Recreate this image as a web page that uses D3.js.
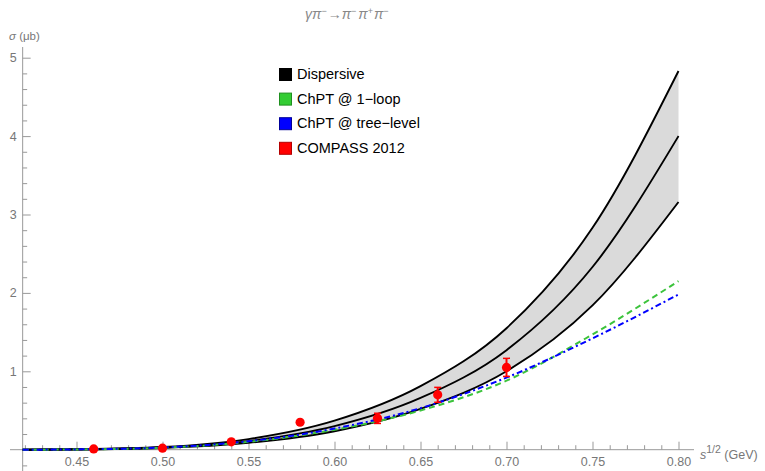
<!DOCTYPE html>
<html>
<head>
<meta charset="utf-8">
<script src="https://cdn.jsdelivr.net/npm/d3@7"></script>
<style>
  body { margin: 0; background: #fff; }
  svg { font-family: "Liberation Sans", Arial, sans-serif; }
</style>
</head>
<body>
<div id="chart"></div>
<script>
// sqrt(s) grid for the curves (GeV), starting at the 3 pion threshold
let curveX = [0.4187, 0.45, 0.50, 0.55, 0.60, 0.65, 0.70, 0.75, 0.80];

// dispersive result: central value and band edges (microbarn)
let dispCentral = [0, 0.004, 0.028, 0.110, 0.300, 0.66, 1.27, 2.33, 4.00];
let dispUpper   = [0, 0.005, 0.034, 0.135, 0.370, 0.81, 1.55, 2.83, 4.83];
let dispLower   = [0, 0.003, 0.022, 0.087, 0.235, 0.52, 1.00, 1.84, 3.16];

// ChPT curves
let chptLoop = [0, 0.003, 0.025, 0.100, 0.255, 0.50, 0.88, 1.47, 2.15];
let chptTree = [0, 0.004, 0.028, 0.108, 0.270, 0.53, 0.92, 1.42, 1.98];

// COMPASS 2012 data
let dataX   = [0.46, 0.50, 0.54, 0.58, 0.625, 0.66, 0.70];
let dataY   = [0.01, 0.02, 0.10, 0.35, 0.40, 0.70, 1.05];
let dataErr = [0.005, 0.008, 0.015, 0.02, 0.065, 0.095, 0.115];

let xMajor = [0.45, 0.50, 0.55, 0.60, 0.65, 0.70, 0.75, 0.80];
let yMajor = [1, 2, 3, 4, 5];

let legendLabels = ["Dispersive", "ChPT @ 1\u2212loop", "ChPT @ tree\u2212level", "COMPASS 2012"];
let legendColors = ["#000000", "#33cc33", "#0000ff", "#ff0000"];
let legendStroke = ["#000000", "#1f8f1f", "#000099", "#b30000"];

let chartWidth = 765;
let chartHeight = 471;
let axisColor = "#999999";
let labelColor = "#777777";

let x = d3.scaleLinear().domain([0.45, 0.80]).range([76.5, 678.5]);
let y = d3.scaleLinear().domain([0, 5]).range([449.7, 57.7]);

let svg = d3.select("#chart").append("svg")
    .attr("width", chartWidth)
    .attr("height", chartHeight);

let originX = x(0.4187);

// band
let band = d3.area()
    .x(function (d, i) { return x(curveX[i]); })
    .y0(function (d, i) { return y(dispLower[i]); })
    .y1(function (d, i) { return y(dispUpper[i]); })
    .curve(d3.curveMonotoneX);

svg.append("path")
    .datum(curveX)
    .attr("fill", "#dadada")
    .attr("d", band);

function line(values) {
    return d3.line()
        .x(function (d, i) { return x(curveX[i]); })
        .y(function (d) { return y(d); })
        .curve(d3.curveMonotoneX)(values);
}

// axes (drawn under curves)
let xAxisY = y(0);

svg.append("line")
    .attr("x1", 10).attr("x2", 694)
    .attr("y1", xAxisY).attr("y2", xAxisY)
    .attr("stroke", axisColor);

svg.append("line")
    .attr("x1", originX).attr("x2", originX)
    .attr("y1", 47).attr("y2", chartHeight)
    .attr("stroke", axisColor);

let xMinor = d3.range(42, 81).map(function (d) { return d / 100; })
    .filter(function (d) { return Math.round(d * 100) % 5 !== 0; });

let xAxisMinor = d3.axisBottom(x).tickValues(xMinor).tickSize(-4.5).tickFormat("");
let xAxisMajor = d3.axisBottom(x).tickValues(xMajor).tickSize(-8).tickPadding(7)
    .tickFormat(d3.format(".2f"));

svg.append("g").attr("transform", "translate(0," + xAxisY + ")").call(xAxisMinor);
svg.append("g").attr("transform", "translate(0," + xAxisY + ")").call(xAxisMajor);

let yMinor = d3.range(-1, 26).map(function (d) { return d / 5; })
    .filter(function (d) { return d !== 0 && Math.round(d * 5) % 5 !== 0; });

let yAxisMinor = d3.axisLeft(y).tickValues(yMinor).tickSize(-4.5).tickFormat("");
let yAxisMajor = d3.axisLeft(y).tickValues(yMajor).tickSize(-8).tickPadding(6)
    .tickFormat(d3.format("d"));

svg.append("g").attr("transform", "translate(" + originX + ",0)").call(yAxisMinor);
svg.append("g").attr("transform", "translate(" + originX + ",0)").call(yAxisMajor);

svg.selectAll(".domain").remove();
svg.selectAll(".tick line").attr("stroke", axisColor);
svg.selectAll(".tick text")
    .attr("fill", labelColor)
    .style("font-size", "12.5px")
    .style("font-family", "Liberation Sans, Arial, sans-serif");

// dispersive lines
[dispUpper, dispCentral, dispLower].forEach(function (v) {
    svg.append("path")
        .attr("d", line(v))
        .attr("fill", "none")
        .attr("stroke", "#000")
        .attr("stroke-width", 1.9);
});

// ChPT lines
svg.append("path")
    .attr("d", line(chptLoop))
    .attr("fill", "none")
    .attr("stroke", "#3cc33c")
    .attr("stroke-width", 2)
    .attr("stroke-dasharray", "6,4");

svg.append("path")
    .attr("d", line(chptTree))
    .attr("fill", "none")
    .attr("stroke", "#0000ff")
    .attr("stroke-width", 2)
    .attr("stroke-dasharray", "6,3,2,3");

// data points
let pts = svg.append("g").selectAll("g")
    .data(dataX)
    .enter().append("g");

pts.append("line")
    .attr("x1", function (d) { return x(d); })
    .attr("x2", function (d) { return x(d); })
    .attr("y1", function (d, i) { return y(dataY[i] + dataErr[i]); })
    .attr("y2", function (d, i) { return y(dataY[i] - dataErr[i]); })
    .attr("stroke", "#ff0000")
    .attr("stroke-width", 2);

[1, -1].forEach(function (sgn) {
    pts.append("line")
        .attr("x1", function (d) { return x(d) - 3.5; })
        .attr("x2", function (d) { return x(d) + 3.5; })
        .attr("y1", function (d, i) { return y(dataY[i] + sgn * dataErr[i]); })
        .attr("y2", function (d, i) { return y(dataY[i] + sgn * dataErr[i]); })
        .attr("stroke", "#ff0000")
        .attr("stroke-width", 1.5);
});

pts.append("circle")
    .attr("cx", function (d) { return x(d); })
    .attr("cy", function (d, i) { return y(dataY[i]); })
    .attr("r", 4.6)
    .attr("fill", "#ff0000");

// legend
let legend = svg.append("g").attr("transform", "translate(279,68)");

let rows = legend.selectAll("g")
    .data(legendLabels)
    .enter().append("g")
    .attr("transform", function (d, i) { return "translate(0," + (i * 24.6) + ")"; });

rows.append("rect")
    .attr("x", 0.5).attr("y", 0.5)
    .attr("width", 12).attr("height", 12)
    .attr("fill", function (d, i) { return legendColors[i]; })
    .attr("stroke", function (d, i) { return legendStroke[i]; });

rows.append("text")
    .attr("x", 18)
    .attr("y", 11)
    .style("font-size", "14.5px")
    .attr("fill", "#000")
    .text(function (d) { return d; });

// title
let title = svg.append("text")
    .attr("x", 305)
    .attr("y", 19)
    .attr("fill", "#888")
    .style("font-size", "14px")
    .style("font-style", "italic");

title.append("tspan").text("\u03b3\u03c0");
title.append("tspan").attr("dy", -5).style("font-size", "9px").style("font-style", "normal").text("\u2212");
title.append("tspan").attr("dy", 5).attr("dx", 1).style("font-style", "normal").text("\u2192");
title.append("tspan").text("\u03c0");
title.append("tspan").attr("dy", -5).style("font-size", "9px").style("font-style", "normal").text("\u2212");
title.append("tspan").attr("dy", 5).attr("dx", 2).text("\u03c0");
title.append("tspan").attr("dy", -5).style("font-size", "9px").style("font-style", "normal").text("+");
title.append("tspan").attr("dy", 5).attr("dx", 1).text("\u03c0");
title.append("tspan").attr("dy", -5).style("font-size", "9px").style("font-style", "normal").text("\u2212");

// axis labels
let yLabel = svg.append("text")
    .attr("x", 9)
    .attr("y", 40)
    .attr("fill", labelColor)
    .style("font-size", "11.5px");
yLabel.append("tspan").style("font-style", "italic").text("\u03c3");
yLabel.append("tspan").text(" (\u03bcb)");

let xLabel = svg.append("text")
    .attr("x", 700)
    .attr("y", 459)
    .attr("fill", labelColor)
    .style("font-size", "12.5px");
xLabel.append("tspan").style("font-style", "italic").text("s");
xLabel.append("tspan").attr("dy", -6).style("font-size", "10.5px").text("1/2");
xLabel.append("tspan").attr("dy", 6).text(" (GeV)");
</script>
</body>
</html>
